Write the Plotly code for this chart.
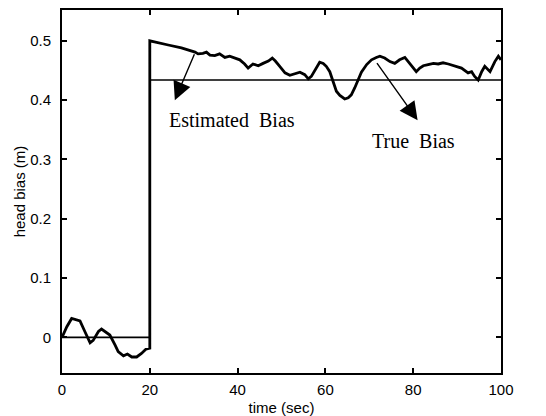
import plotly.graph_objects as go

# Estimated bias trace (time in sec, bias in m)
est_t = [0, 1.1, 2.2, 3.3, 4.1, 5.2, 6.4, 7.1, 8.3, 9.0, 10.2, 10.9, 12.1, 12.8, 14.0, 14.9,
         15.9, 17.0, 18.1, 19.1, 20.0, 20.0, 24.2, 27.2, 30.3, 31.0, 32.1, 32.9, 33.7, 34.8,
         35.9, 37.1, 38.2, 39.4, 40.5, 41.6, 42.4, 43.5, 44.7, 45.8, 47.0, 47.9, 48.6, 49.6,
         50.8, 51.9, 53.0, 54.2, 55.3, 56.1, 56.8, 57.6, 58.7, 59.5, 60.2, 61.0, 61.7, 62.5,
         63.3, 64.4, 65.2, 65.9, 66.7, 67.5, 68.2, 69.4, 70.5, 71.6, 72.4, 73.5, 74.7, 75.8,
         76.9, 78.1, 79.2, 80.7, 81.5, 82.3, 83.4, 84.6, 85.7, 86.8, 88.0, 89.5, 91.0, 92.5,
         93.3, 94.0, 94.8, 95.6, 96.3, 97.5, 98.6, 99.4, 100.0]
est_b = [0.0, 0.018, 0.032, 0.030, 0.028, 0.010, -0.009, -0.005, 0.010, 0.014, 0.008, 0.004,
         -0.013, -0.024, -0.031, -0.028, -0.033, -0.033, -0.027, -0.020, -0.018, 0.500, 0.493,
         0.488, 0.481, 0.478, 0.479, 0.481, 0.476, 0.475, 0.478, 0.472, 0.474, 0.471, 0.468,
         0.461, 0.454, 0.461, 0.458, 0.462, 0.466, 0.471, 0.466, 0.457, 0.446, 0.442, 0.444,
         0.447, 0.443, 0.436, 0.440, 0.451, 0.464, 0.462, 0.457, 0.448, 0.432, 0.415, 0.408,
         0.402, 0.404, 0.409, 0.421, 0.434, 0.447, 0.460, 0.468, 0.472, 0.474, 0.471, 0.465,
         0.462, 0.468, 0.472, 0.461, 0.448, 0.454, 0.458, 0.460, 0.462, 0.461, 0.463, 0.461,
         0.458, 0.454, 0.446, 0.448, 0.440, 0.434, 0.448, 0.457, 0.448, 0.465, 0.474, 0.468]

# True bias: step at 20 s
true_t = [0, 20, 20, 100]
true_b = [0.0, 0.0, 0.434, 0.434]

x_ticks = [0, 20, 40, 60, 80, 100]
y_ticks = [0, 0.1, 0.2, 0.3, 0.4, 0.5]

fig = go.Figure()
fig.add_trace(go.Scatter(x=true_t, y=true_b, mode="lines",
                         line=dict(color="black", width=1.6), showlegend=False))
fig.add_trace(go.Scatter(x=est_t, y=est_b, mode="lines",
                         line=dict(color="black", width=2.8), showlegend=False))

serif = "Liberation Serif, Times New Roman, serif"
fig.add_annotation(x=25.7, y=0.40, ax=30.3, ay=0.48, xref="x", yref="y", axref="x", ayref="y",
                   showarrow=True, arrowhead=2, arrowsize=2.6, arrowwidth=1.4, arrowcolor="black", text="")
fig.add_annotation(x=81.0, y=0.366, ax=71.5, ay=0.465, xref="x", yref="y", axref="x", ayref="y",
                   showarrow=True, arrowhead=2, arrowsize=2.6, arrowwidth=1.4, arrowcolor="black", text="")
fig.add_annotation(x=38.7, y=0.366, text="Estimated  Bias", showarrow=False,
                   font=dict(family=serif, size=20, color="black"))
fig.add_annotation(x=80.0, y=0.331, text="True  Bias", showarrow=False,
                   font=dict(family=serif, size=20, color="black"))

sans = "Liberation Sans, Arial, sans-serif"
fig.update_xaxes(range=[0, 100], tickvals=x_ticks, ticks="inside", ticklen=5, tickwidth=1.5,
                 tickcolor="black", mirror="allticks", showline=True, linecolor="black", linewidth=2,
                 showgrid=False, zeroline=False, tickfont=dict(family=sans, size=15, color="black"),
                 ticklabelstandoff=2, automargin=False,
                 title=dict(text="time (sec)", font=dict(family=sans, size=15, color="black")))
fig.update_yaxes(range=[-0.06, 0.552], tickvals=y_ticks, ticktext=["0", "0.1", "0.2", "0.3", "0.4", "0.5"],
                 ticks="inside", ticklen=5, tickwidth=1.5,
                 tickcolor="black", mirror="allticks", showline=True, linecolor="black", linewidth=2,
                 showgrid=False, zeroline=False, tickfont=dict(family=sans, size=15, color="black"),
                 ticklabelstandoff=6, automargin=True,
                 title=dict(text="head bias (m)", font=dict(family=sans, size=15, color="black"), standoff=1))
fig.update_layout(width=546, height=416, margin=dict(l=62, r=45, t=10, b=43),
                  plot_bgcolor="white", paper_bgcolor="white")
fig.write_html("out.html")
